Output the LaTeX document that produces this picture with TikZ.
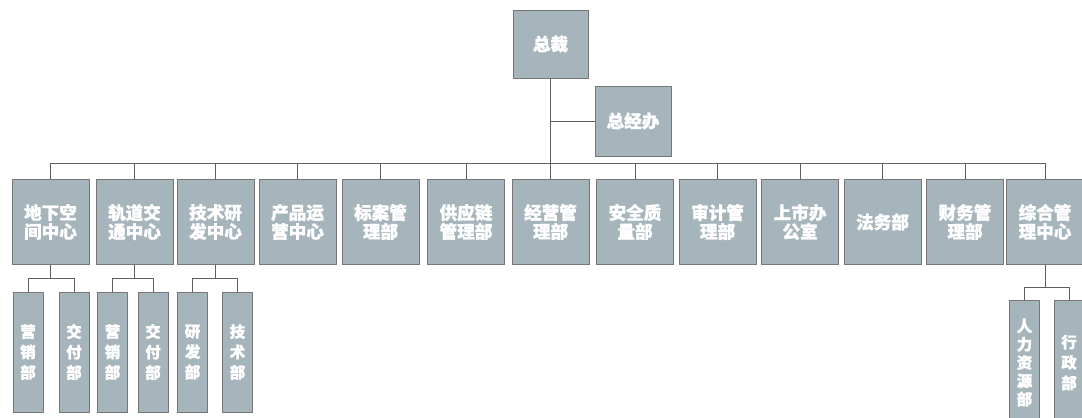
\documentclass[tikz,border=0pt]{standalone}
\usepackage{fontspec}
\setmainfont{Noto Sans CJK SC}[FakeBold=1.2]
\usepackage{tikz}
\definecolor{boxfill}{RGB}{166,181,187}
\definecolor{boxline}{RGB}{118,118,118}
\definecolor{linegray}{RGB}{95,95,95}

\begin{document}
\begin{tikzpicture}[x=0.025cm, y=-0.025cm,
  unit/.style={rectangle, draw=boxline, fill=boxfill, text=white, inner sep=0pt,
               align=center, font=\fontsize{12.5}{13.5}\selectfont\bfseries,
               minimum width=1.925cm, minimum height=2.125cm},
  head/.style={unit, minimum width=1.875cm, minimum height=1.7cm},
  dept/.style={unit, minimum width=0.75cm, minimum height=3cm,
               font=\fontsize{11}{14.5}\selectfont\bfseries},
  wire/.style={draw=linegray, line width=0.5pt}]
  \useasboundingbox (0,0) rectangle (1082,417);

  % top
  \node[head] (ceo) at (550.5,44) {总裁};
  \node[head, minimum width=1.9cm, minimum height=1.75cm] (gmo) at (633,121) {总经办};

  % centres and departments
  \node[unit] (undg) at (50.5,222) {地下空\\间中心};
  \node[unit] (rail) at (134.5,222) {轨道交\\通中心};
  \node[unit] (tech) at (215.5,222) {技术研\\发中心};
  \node[unit] (prod) at (297.5,222) {产品运\\营中心};
  \node[unit] (bid) at (380.5,222) {标案管\\理部};
  \node[unit] (supply) at (466,222) {供应链\\管理部};
  \node[unit] (oper) at (550.5,222) {经营管\\理部};
  \node[unit] (safety) at (635,222) {安全质\\量部};
  \node[unit] (audit) at (717.5,222) {审计管\\理部};
  \node[unit] (ipo) at (800,222) {上市办\\公室};
  \node[unit] (legal) at (882.5,222) {法务部};
  \node[unit] (fin) at (965,222) {财务管\\理部};
  \node[unit] (admin) at (1045,222) {综合管\\理中心};

  % sub-departments
  \node[dept] (undgSale) at (28,352) {营\\销\\部};
  \node[dept] (undgDel) at (74,352) {交\\付\\部};
  \node[dept] (railSale) at (112.5,352) {营\\销\\部};
  \node[dept] (railDel) at (153,352) {交\\付\\部};
  \node[dept] (techRD) at (192.5,352) {研\\发\\部};
  \node[dept] (techEng) at (237.5,352) {技\\术\\部};
  \node[dept, minimum height=3.125cm, font=\fontsize{11}{13}\selectfont\bfseries]
    (adminHR) at (1024.5,362.5) {人\\力\\资\\源\\部};
  \node[dept, minimum height=3.125cm] (adminGA) at (1069,362.5) {行\\政\\部};

  \coordinate (bus) at (0,163);
  \coordinate (fork) at (0,278);
  \coordinate (forkR) at (0,287);

  \draw[wire] (ceo.south) -- (ceo.south |- bus);
  \draw[wire] (ceo.south |- gmo.west) -- (gmo.west);
  \draw[wire] (undg.north) -- (undg.north |- bus) -- (admin.north |- bus) -- (admin.north);
  \foreach \n in {rail,tech,prod,bid,supply,oper,safety,audit,ipo,legal,fin}
    \draw[wire] (\n.north) -- (\n.north |- bus);

  \foreach \p/\a/\b in {undg/undgSale/undgDel, rail/railSale/railDel, tech/techRD/techEng} {
    \draw[wire] (\p.south) -- (\p.south |- fork);
    \draw[wire] (\a.north) -- (\a.north |- fork) -- (\b.north |- fork) -- (\b.north);
  }
  \draw[wire] (admin.south) -- (admin.south |- forkR);
  \draw[wire] (adminHR.north) -- (adminHR.north |- forkR) -- (adminGA.north |- forkR) -- (adminGA.north);
\end{tikzpicture}
\end{document}
